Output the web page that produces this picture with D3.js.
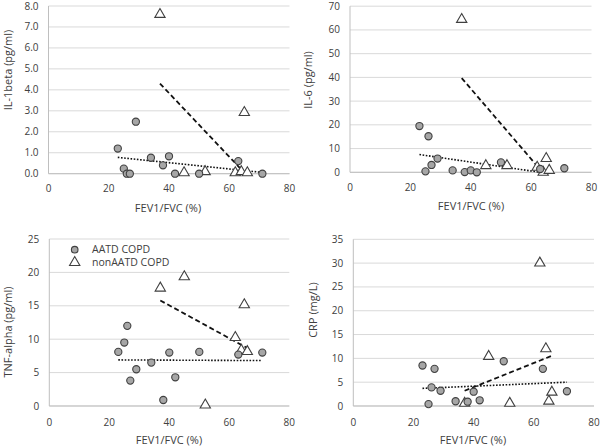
<!DOCTYPE html>
<html><head><meta charset="utf-8">
<script src="https://cdn.jsdelivr.net/npm/d3@7"></script>
<style>body{margin:0;background:#fff}svg{display:block}text{font-family:"Open Sans","Liberation Sans",sans-serif;fill:#404040}</style>
</head><body><svg id="c" width="600" height="446"></svg>
<script>
// FEV1/FVC (%) for each patient
const xAATD = [23,25,26,27,29,34,38,40,42,50,63,71];
const xNon  = [37,45,52,62,64,65,66];

const il1AATD = [1.2,0.24,0,0,2.48,0.76,0.4,0.83,0,0,0.6,0];
const il1Non  = [7.55,0,0.05,0,0.05,2.87,0];
const il6AATD = [19.5,0.4,15.2,3.1,5.8,0.8,0.1,0.8,0,4.2,1.4,1.7];
const il6Non  = [64,2.4,2.4,1.7,-0.4,5.4,0.4];
const tnfAATD = [8.1,9.5,12,3.8,5.5,6.5,0.9,8.0,4.3,8.1,7.7,8.0];
const tnfNon  = [17.5,19.2,0,10.1,8.2,15,8.0];
const crpAATD = [8.5,0.4,3.9,7.8,3.2,1.0,0.9,3.0,1.2,9.4,7.8,3.1];
const crpNon  = [0.35,10.2,0.35,29.8,11.8,0.8,2.7];

// trend line end points [x, y]
const il1TrendAATD = [[23,0.78],[71,0.06]];
const il1TrendNon  = [[37,4.3],[65.2,0.02]];
const il6TrendAATD = [[23,7.5],[63,0]];
const il6TrendNon  = [[37,39.7],[63.8,0]];
const tnfTrendAATD = [[23,6.9],[71,6.8]];
const tnfTrendNon  = [[37,15.8],[66.3,8.6]];
const crpTrendAATD = [[23,3.7],[71,5.0]];
const crpTrendNon  = [[37,3.2],[66.2,10.6]];

const xTicks = [0,20,40,60,80];
const titles = ["IL-1beta (pg/ml)","IL-6 (pg/ml)","TNF-alpha (pg/ml)","CRP (mg/L)"];
const yMaxes = [8,70,25,35];
const yStepTicks = [1,10,5,5];
const yFormats = [".1f","d","d","d"];
const legendLabels = ["AATD COPD","nonAATD COPD"];

const panels = [
  {a:il1AATD,n:il1Non,ta:il1TrendAATD,tn:il1TrendNon,x0:48.5,x1:289.5,y0:173.7,y1:6,ytx:8,yty:70,xtx:168,xty:208,tly:188,legend:false},
  {a:il6AATD,n:il6Non,ta:il6TrendAATD,tn:il6TrendNon,x0:350,x1:591.5,y0:172.3,y1:6.2,ytx:308,yty:80,xtx:471,xty:206,tly:187,legend:false},
  {a:tnfAATD,n:tnfNon,ta:tnfTrendAATD,tn:tnfTrendNon,x0:49.3,x1:289.3,y0:406,y1:239,ytx:8.5,yty:332,xtx:169,xty:440,tly:422,legend:true},
  {a:crpAATD,n:crpNon,ta:crpTrendAATD,tn:crpTrendNon,x0:353.3,x1:594,y0:406,y1:239.3,ytx:313,yty:310,xtx:473,xty:440,tly:422,legend:false}
];

const svg = d3.select("#c");
const tri = d3.symbol().type(d3.symbolTriangle).size(46);

panels.forEach((p,i)=>{
  const x = d3.scaleLinear().domain([0,80]).range([p.x0,p.x1]);
  const y = d3.scaleLinear().domain([0,yMaxes[i]]).range([p.y0,p.y1]);
  const g = svg.append("g");
  const yt = d3.range(0,yMaxes[i]+1e-9,yStepTicks[i]);
  g.selectAll(".gl").data(yt).join("line")
    .attr("x1",p.x0).attr("x2",p.x1).attr("y1",d=>y(d)).attr("y2",d=>y(d))
    .attr("stroke","#d9d9d9").attr("stroke-width",1);
  g.append("line").attr("x1",p.x0).attr("x2",p.x0).attr("y1",p.y0).attr("y2",p.y1)
    .attr("stroke","#bfbfbf");
  g.append("line").attr("x1",p.x0).attr("x2",p.x1).attr("y1",p.y0).attr("y2",p.y0)
    .attr("stroke","#bfbfbf");
  const fmt = d3.format(yFormats[i]);
  g.selectAll(".yl").data(yt).join("text")
    .attr("x",p.x0-10).attr("y",d=>y(d)).attr("dy","0.35em")
    .attr("text-anchor","end").attr("font-size",10).text(d=>fmt(d));
  g.selectAll(".xl").data(xTicks).join("text")
    .attr("x",d=>x(d)).attr("y",p.tly).attr("dy","0.35em")
    .attr("text-anchor","middle").attr("font-size",10).text(d=>d);
  g.append("text").attr("transform",`translate(${p.ytx},${p.yty}) rotate(-90)`)
    .attr("dy","0.35em").attr("text-anchor","middle").attr("font-size",11).text(titles[i]);
  g.append("text").attr("x",p.xtx).attr("y",p.xty).attr("dy","0.35em")
    .attr("text-anchor","middle").attr("font-size",11).text("FEV1/FVC (%)");
  const line = d3.line().x(d=>x(d[0])).y(d=>y(d[1]));
  g.append("path").attr("d",line(p.ta)).attr("fill","none").attr("stroke","#111")
    .attr("stroke-width",1.6).attr("stroke-dasharray","1.6,1.6");
  g.append("path").attr("d",line(p.tn)).attr("fill","none").attr("stroke","#111")
    .attr("stroke-width",1.8).attr("stroke-dasharray","5,3");
  g.selectAll(".tri").data(xNon.map((v,k)=>[v,p.n[k]])).join("path")
    .attr("d",tri).attr("transform",d=>`translate(${x(d[0])},${y(d[1])-1})`)
    .attr("fill","#fff").attr("stroke","#404040").attr("stroke-width",1.1);
  g.selectAll(".cir").data(xAATD.map((v,k)=>[v,p.a[k]])).join("circle")
    .attr("cx",d=>x(d[0])).attr("cy",d=>y(d[1])).attr("r",3.6)
    .attr("fill","#a6a6a6").attr("stroke","#404040").attr("stroke-width",1.1);
  if(p.legend){
    g.append("circle").attr("cx",74.7).attr("cy",249.7).attr("r",3.3)
      .attr("fill","#a6a6a6").attr("stroke","#404040").attr("stroke-width",1.1);
    g.append("path").attr("d",tri).attr("transform","translate(74.7,262.5)")
      .attr("fill","#fff").attr("stroke","#404040").attr("stroke-width",1.1);
    g.selectAll(".lg").data(legendLabels).join("text")
      .attr("x",92).attr("y",(d,k)=>249.7+k*13).attr("dy","0.35em")
      .attr("font-size",10.5).text(d=>d);
  }
});
</script></body></html>
